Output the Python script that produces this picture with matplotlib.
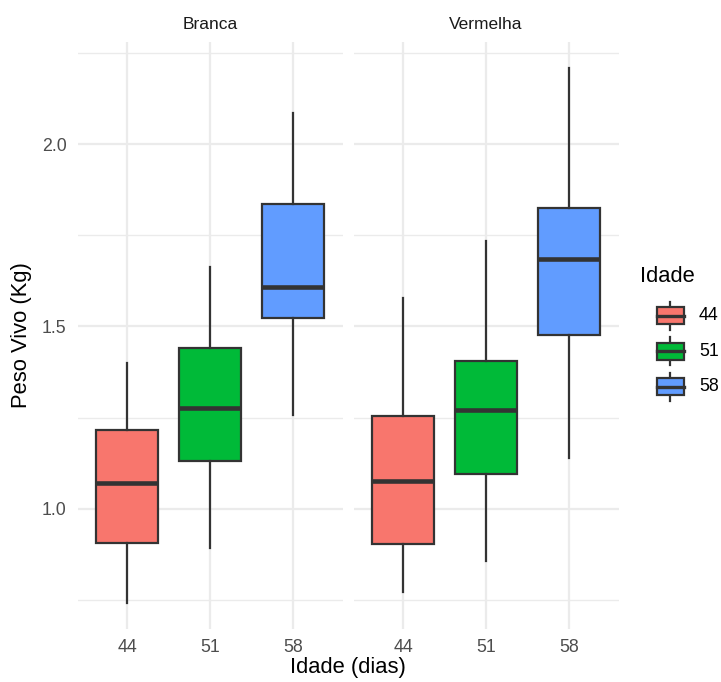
import matplotlib
matplotlib.use("Agg")
import matplotlib.pyplot as plt
from matplotlib.patches import Rectangle

plt.rcParams['font.family'] = ['Liberation Sans', 'DejaVu Sans']

# dados
paineis = ["Branca", "Vermelha"]
idades = ["44", "51", "58"]
cores = ["#F8766D", "#00BA38", "#619CFF"]

# estatisticas por painel: minimo, Q1, mediana, Q3, maximo
branca_min = [0.742, 0.891, 1.256]
branca_q1 = [0.907, 1.131, 1.523]
branca_med = [1.071, 1.275, 1.607]
branca_q3 = [1.215, 1.440, 1.836]
branca_max = [1.399, 1.662, 2.085]

verm_min = [0.772, 0.857, 1.140]
verm_q1 = [0.902, 1.095, 1.476]
verm_med = [1.075, 1.270, 1.686]
verm_q3 = [1.254, 1.405, 1.826]
verm_max = [1.577, 1.735, 2.208]

dados = {
    "Branca": (branca_min, branca_q1, branca_med, branca_q3, branca_max),
    "Vermelha": (verm_min, verm_q1, verm_med, verm_q3, verm_max),
}

W, H = 721, 682
fig = plt.figure(figsize=(W / 100, H / 100), dpi=100)

grid_col = "#EBEBEB"
borda = "#333333"
ymin, ymax = 0.669, 2.281

lefts = [77.7, 353.7]
pw = 264.8
top, bot = 41.7, 629.3

for i, nome in enumerate(paineis):
    ax = fig.add_axes([lefts[i] / W, 1 - bot / H, pw / W, (bot - top) / H])
    mn, q1, md, q3, mx = dados[nome]
    stats = []
    for k in range(3):
        stats.append(dict(med=md[k], q1=q1[k], q3=q3[k], whislo=mn[k], whishi=mx[k], fliers=[]))
    bp = ax.bxp(stats, positions=[1, 2, 3], widths=0.75, patch_artist=True,
                showcaps=False, showfliers=False,
                boxprops=dict(edgecolor=borda, linewidth=1.6),
                medianprops=dict(color=borda, linewidth=3.3, solid_capstyle="butt"),
                whiskerprops=dict(color=borda, linewidth=1.6))
    for patch, c in zip(bp["boxes"], cores):
        patch.set_facecolor(c)
    for l in bp["whiskers"] + bp["medians"]:
        l.set_zorder(3)

    ax.set_xlim(0.4, 3.6)
    ax.set_ylim(ymin, ymax)
    ax.set_xticks([1, 2, 3])
    ax.set_xticklabels(idades)
    ax.set_yticks([1.0, 1.5, 2.0])
    ax.set_yticklabels(["1.0", "1.5", "2.0"])
    ax.set_yticks([0.75, 1.25, 1.75, 2.25], minor=True)
    ax.grid(True, which="major", color=grid_col, linewidth=1.6)
    ax.grid(True, which="minor", axis="y", color=grid_col, linewidth=1.0)
    ax.set_axisbelow(True)
    for s in ax.spines.values():
        s.set_visible(False)
    ax.tick_params(axis="both", which="both", length=0, labelsize=12.8, colors="#4D4D4D")
    ax.tick_params(axis="x", pad=7)
    ax.tick_params(axis="y", pad=8)
    if i == 1:
        ax.tick_params(axis="y", labelleft=False)
    ax.set_title(nome, fontsize=12.5, color="#1A1A1A", pad=9)

fig.text(22 / W, 1 - 335 / H, "Peso Vivo (Kg)", rotation=90, ha="center", va="center",
         fontsize=15.8, color="black")
fig.text(348 / W, 1 - 668 / H, "Idade (dias)", ha="center", va="center",
         fontsize=15.8, color="black")

# legenda desenhada a mao
lax = fig.add_axes([0, 0, 1, 1])
lax.set_xlim(0, W)
lax.set_ylim(H, 0)
lax.axis("off")
lax.text(640, 277, "Idade", fontsize=15.8, ha="left", va="center")
for k, (lab, c) in enumerate(zip(idades, cores)):
    yc = 315.7 + k * 35.5
    lax.plot([670, 670], [yc - 14, yc + 14], color=borda, lw=1.6)
    lax.add_patch(Rectangle((656.5, yc - 8.5), 27, 17, facecolor=c, edgecolor=borda, lw=1.6, zorder=3))
    lax.plot([656.5, 683.5], [yc, yc], color=borda, lw=2.4, zorder=4)
    lax.text(699, yc, lab, fontsize=12.8, ha="left", va="center")

fig.savefig("out.png", dpi=100, facecolor="white")
